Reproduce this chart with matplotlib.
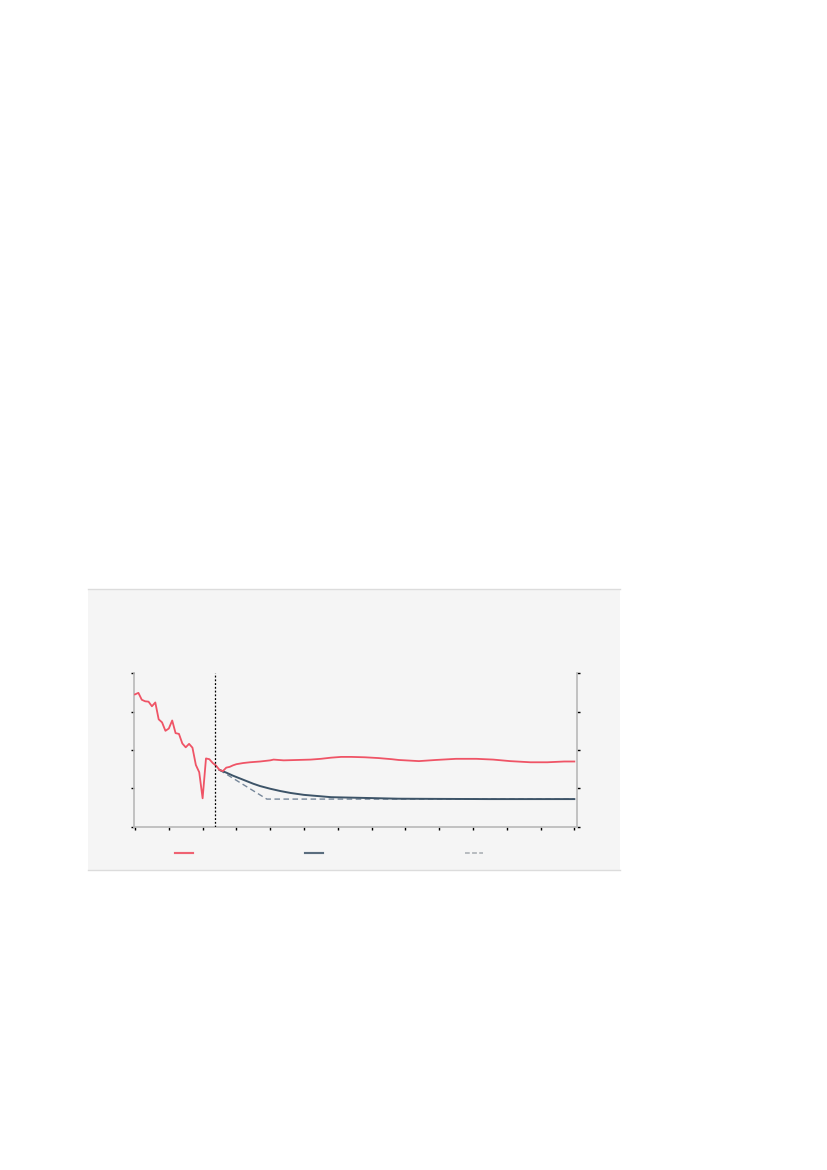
import numpy as np
import matplotlib.pyplot as plt
from matplotlib.lines import Line2D
from matplotlib.patches import Rectangle

# observed history (one point per period)
histIdx = list(range(29))
histVal = [3.45, 3.49, 3.31, 3.27, 3.26, 3.14, 3.24, 2.80, 2.72, 2.50,
           2.56, 2.77, 2.44, 2.42, 2.17, 2.07, 2.16, 2.06, 1.61, 1.42,
           0.74, 1.78, 1.76, 1.66, 1.59, 1.48, 1.45, 1.54, 1.56]

# later part of the red series, read at sampled periods
lateIdx = [29, 30, 32, 34, 37, 40, 41, 44, 48, 52, 55, 58, 61, 64, 68,
           72, 76, 78, 84, 89, 95, 101, 106, 111, 117, 122, 127, 130]
lateVal = [1.60, 1.63, 1.66, 1.68, 1.70, 1.73, 1.75, 1.73, 1.74, 1.75,
           1.77, 1.80, 1.82, 1.82, 1.81, 1.79, 1.76, 1.74, 1.71, 1.74,
           1.77, 1.77, 1.75, 1.71, 1.68, 1.68, 1.70, 1.70]

# smooth projection (dark line)
projIdx = [25, 27, 29, 31, 33, 35, 37, 40, 43, 46, 50, 54, 58, 63, 68,
           78, 90, 105, 130]
projVal = [1.48, 1.41, 1.33, 1.26, 1.19, 1.12, 1.06, 0.99, 0.93, 0.88,
           0.83, 0.80, 0.77, 0.76, 0.75, 0.73, 0.725, 0.72, 0.72]

# straight-line path (dashed)
pathIdx = [25, 39, 130]
pathVal = [1.48, 0.72, 0.72]

splitIdx = 23.8
yTicks = [0, 1, 2, 3, 4]
xTicks = list(range(0, 131, 10))

RED = '#ef5466'
DARK = '#3d5468'
DASH = '#76879a'
BG = '#f5f5f5'

fig = plt.figure(figsize=(8.27, 11.7), dpi=100)

# grey panel behind the chart
W, H = 827.0, 1170.0
fig.patches.append(Rectangle((88 / W, 1 - 870 / H), 532 / W, 281 / H,
                             transform=fig.transFigure, facecolor=BG,
                             edgecolor='none', zorder=-5))
for yy in (589, 870):
    fig.add_artist(Line2D([88 / W, 620 / W], [1 - yy / H, 1 - yy / H],
                          transform=fig.transFigure, color='#dcdcdc', lw=1,
                          zorder=-4))

ax = fig.add_axes([133.5 / W, 1 - 826.7 / H, (576.7 - 133.5) / W, (826.7 - 673.3) / H])
ax.set_facecolor('none')

redIdx = histIdx + lateIdx
redVal = histVal + lateVal
ax.plot(pathIdx, pathVal, color=DASH, lw=1, dashes=(4, 2.5), zorder=2)
ax.plot(projIdx, projVal, color=DARK, lw=1.4, zorder=3)
ax.plot(redIdx, redVal, color=RED, lw=1.3, zorder=4)
ax.axvline(splitIdx, color='black', lw=0.9, ls=(0, (1.5, 1.5)), zorder=5)

ax.set_xlim(-0.45, 130.7)
ax.set_ylim(0, 4)
ax.set_xticks(xTicks)
ax.set_yticks(yTicks)
ax.tick_params(axis='both', direction='out', length=2.5, width=1, color='black',
               labelleft=False, labelbottom=False)
ax.tick_params(axis='y', right=True, labelright=False)
for side in ('left', 'right', 'bottom'):
    ax.spines[side].set_color('#b8b8b8')
    ax.spines[side].set_linewidth(1.2)
ax.spines['top'].set_visible(False)

# legend samples (labels are blank in the reference)
legItems = [(175, Line2D([], [], color=RED, lw=1.5, alpha=0.7)),
            (305, Line2D([], [], color=DARK, lw=1.5, alpha=0.6)),
            (465, Line2D([], [], color='#b8bcc0', lw=1.3, dashes=(2.5, 1.5)))]
for xPx, h in legItems:
    leg = fig.legend(handles=[h], labels=[''], loc='center left',
                     bbox_to_anchor=(xPx / W, 1 - 853.7 / H), frameon=False,
                     borderpad=0, borderaxespad=0, handlelength=1.3,
                     handletextpad=0)
    fig.add_artist(leg)

fig.savefig('out.png', dpi=100)
